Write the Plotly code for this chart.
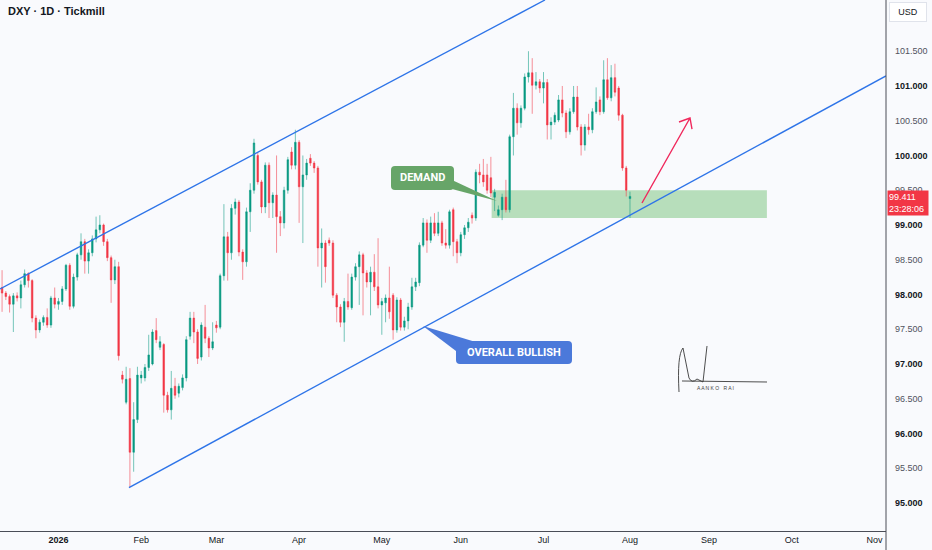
import pandas as pd
import plotly.graph_objects as go

# DXY daily candles, 8 Dec 2025 .. 3 Aug 2026 (weekdays)
dates = pd.bdate_range("2025-12-08", "2026-08-03")

opens = [
    98.70, 98.90, 98.95, 98.10, 98.02, 97.97, 97.86, 97.98, 97.95, 98.14,
    98.30, 98.20, 97.66, 97.49, 97.60, 97.67, 97.56, 97.95, 97.86, 97.90,
    98.08, 98.42, 97.83, 98.25, 98.57, 98.76, 98.48, 98.60, 98.80, 98.93,
    99.00, 98.76, 98.53, 98.21, 98.40, 96.84, 96.45, 96.79, 95.73, 96.20,
    96.80, 96.80, 96.95, 97.00, 97.48, 97.24, 97.28, 96.55, 96.34, 96.68,
    96.58, 96.66, 96.80, 97.40, 97.66, 97.46, 97.10, 97.53, 97.37, 97.23,
    97.56, 97.53, 98.27, 98.83, 98.60, 99.24, 99.33, 98.61, 98.47, 99.19,
    99.50, 100.00, 99.62, 99.26, 99.86, 99.32, 99.43, 99.12, 99.03, 99.50,
    100.05, 99.86, 100.19, 99.55, 99.72, 99.96, 99.89, 99.82, 98.67, 98.74,
    98.78, 98.74, 97.99, 97.82, 97.60, 97.90, 97.81, 98.25, 98.40, 98.57,
    98.31, 98.18, 98.32, 98.11, 97.85, 97.88, 97.95, 97.99, 97.49, 97.92,
    97.53, 97.62, 97.82, 98.11, 98.17, 98.71, 99.03, 98.78, 99.03, 98.88,
    99.03, 98.74, 98.71, 99.22, 98.76, 98.60, 98.86, 98.96, 99.14, 99.10,
    99.76, 99.72, 99.72, 99.68, 99.40, 99.14, 99.22, 99.40, 99.22, 100.27,
    100.68, 100.47, 100.68, 101.13, 101.19, 101.01, 101.06, 100.97, 101.05, 100.44,
    100.48, 100.51, 100.80, 100.61, 100.34, 100.63, 100.84, 100.41, 100.15, 100.41,
    100.37, 100.63, 100.80, 100.63, 101.09, 100.83, 101.12, 100.97, 100.58, 99.82,
    99.38,
]
highs = [
    99.00, 99.05, 98.98, 98.35, 98.05, 98.00, 98.02, 98.03, 98.20, 98.36,
    98.32, 98.22, 97.70, 97.64, 97.70, 97.80, 97.98, 98.10, 97.95, 98.12,
    98.44, 98.45, 98.30, 98.60, 98.88, 98.80, 98.65, 98.85, 99.12, 99.14,
    99.02, 98.80, 98.56, 98.50, 98.47, 96.90, 96.96, 96.94, 96.45, 96.96,
    96.90, 97.00, 97.42, 97.50, 97.66, 97.40, 97.30, 96.60, 96.90, 96.80,
    96.72, 96.85, 97.40, 97.75, 97.75, 97.50, 97.60, 97.85, 97.40, 97.60,
    97.62, 98.30, 99.30, 98.90, 99.30, 99.38, 99.36, 98.65, 99.25, 99.60,
    100.24, 100.05, 99.65, 99.90, 99.90, 99.47, 100.00, 99.20, 99.55, 99.98,
    100.12, 100.37, 100.22, 100.00, 99.95, 100.02, 99.92, 99.85, 98.95, 98.78,
    98.82, 98.78, 98.02, 97.86, 97.95, 98.30, 98.30, 98.45, 98.62, 98.60,
    98.35, 98.40, 98.58, 98.81, 97.95, 98.00, 98.40, 98.02, 97.96, 97.95,
    97.68, 97.88, 98.24, 98.24, 98.75, 99.10, 99.08, 99.12, 99.17, 99.19,
    99.06, 98.94, 99.22, 99.25, 98.80, 98.90, 99.00, 99.10, 99.18, 99.80,
    99.88, 99.95, 99.88, 99.98, 99.52, 99.28, 99.45, 99.65, 100.30, 100.90,
    100.75, 100.72, 101.18, 101.50, 101.40, 101.20, 101.10, 101.20, 101.10, 100.55,
    100.62, 100.87, 101.00, 100.65, 100.68, 101.00, 101.00, 100.45, 100.45, 100.60,
    100.68, 100.98, 100.85, 101.37, 101.40, 101.30, 101.32, 101.00, 100.60, 99.85,
    99.48,
]
lows = [
    98.60, 98.80, 98.05, 97.75, 97.92, 97.74, 97.46, 97.90, 97.80, 98.10,
    98.10, 97.60, 97.37, 97.45, 97.55, 97.52, 97.52, 97.80, 97.78, 97.85,
    98.05, 97.78, 97.80, 98.20, 98.50, 98.30, 98.30, 98.55, 98.75, 98.88,
    98.70, 98.48, 97.88, 98.15, 97.05, 96.72, 96.42, 95.23, 95.45, 96.15,
    96.72, 96.75, 96.90, 96.98, 97.30, 97.20, 96.30, 96.30, 96.20, 96.50,
    96.52, 96.62, 96.75, 97.35, 97.30, 97.00, 97.05, 97.30, 97.10, 97.20,
    97.45, 97.50, 98.20, 98.20, 98.50, 99.15, 98.55, 98.21, 98.40, 98.90,
    99.45, 99.58, 99.17, 99.17, 99.10, 99.10, 98.60, 98.84, 98.95, 99.45,
    99.80, 99.80, 99.03, 98.74, 99.65, 99.85, 99.75, 98.40, 98.10, 98.17,
    98.70, 97.95, 97.60, 97.53, 97.32, 97.78, 97.78, 98.20, 97.85, 97.70,
    98.10, 97.70, 98.05, 97.80, 97.42, 97.60, 97.65, 97.35, 97.45, 97.48,
    97.48, 97.50, 97.78, 98.05, 98.12, 98.68, 98.60, 98.74, 98.84, 98.84,
    98.70, 98.66, 98.66, 98.55, 98.45, 98.55, 98.80, 98.90, 99.02, 99.06,
    99.60, 99.55, 99.45, 99.40, 99.20, 99.12, 99.07, 99.18, 99.18, 100.00,
    100.30, 100.40, 100.65, 101.05, 100.60, 100.95, 100.90, 100.75, 100.23, 100.23,
    100.44, 100.48, 100.55, 100.25, 100.30, 100.60, 100.36, 100.00, 100.07, 100.30,
    100.32, 100.60, 100.58, 100.60, 100.80, 100.78, 100.85, 100.50, 99.78, 99.41,
    99.10,
]
closes = [
    98.90, 98.95, 98.10, 98.02, 97.97, 97.86, 97.98, 97.95, 98.14, 98.30,
    98.20, 97.66, 97.49, 97.60, 97.67, 97.56, 97.95, 97.86, 97.90, 98.08,
    98.42, 97.83, 98.25, 98.57, 98.76, 98.48, 98.60, 98.80, 98.93, 99.00,
    98.76, 98.53, 98.21, 98.40, 97.12, 96.78, 96.78, 95.73, 96.20, 96.84,
    96.84, 96.95, 97.13, 97.46, 97.35, 97.32, 96.55, 96.34, 96.65, 96.55,
    96.68, 96.80, 97.35, 97.66, 97.46, 97.08, 97.56, 97.37, 97.23, 97.32,
    97.52, 98.27, 98.83, 98.60, 99.24, 99.33, 98.61, 98.47, 99.19, 99.50,
    100.18, 99.62, 99.26, 99.86, 99.32, 99.43, 99.12, 99.03, 99.50, 99.94,
    99.86, 100.19, 99.55, 99.72, 99.89, 99.89, 99.82, 98.67, 98.74, 98.40,
    98.74, 97.99, 97.82, 97.60, 97.90, 97.82, 98.25, 98.40, 98.57, 98.31,
    98.18, 98.32, 98.11, 97.85, 97.90, 97.95, 97.75, 97.49, 97.92, 97.53,
    97.62, 97.82, 98.11, 98.18, 98.71, 99.03, 98.78, 99.03, 98.88, 99.03,
    98.74, 98.71, 99.19, 98.76, 98.60, 98.86, 98.96, 99.04, 99.10, 99.76,
    99.72, 99.62, 99.50, 99.46, 99.47, 99.22, 99.40, 99.22, 100.27, 100.68,
    100.47, 100.68, 101.13, 101.19, 101.01, 101.06, 100.97, 101.05, 100.44, 100.48,
    100.58, 100.80, 100.61, 100.34, 100.63, 100.84, 100.41, 100.15, 100.41, 100.37,
    100.63, 100.77, 100.63, 101.09, 100.83, 101.12, 100.91, 100.58, 99.82, 99.50,
    99.411,
]

month_ticks = ["2026-01-01", "2026-02-02", "2026-03-02", "2026-04-01", "2026-05-01", "2026-06-01",
               "2026-07-01", "2026-08-03", "2026-09-01", "2026-10-01", "2026-11-02"]
month_labels = ["<b>2026</b>", "Feb", "Mar", "Apr", "May", "Jun", "Jul", "Aug", "Sep", "Oct", "Nov"]
price_ticks = [95.0, 95.5, 96.0, 96.5, 97.0, 97.5, 98.0, 98.5, 99.0, 99.5, 100.0, 100.5, 101.0, 101.5]
price_labels = [("<b>%.3f</b>" % p) if p % 1 == 0 else ("<span style='color:#50535e'>%.3f</span>" % p)
                for p in price_ticks]

last_price = 99.411
countdown = "23:28:06"

# drawings (channel + demand zone)
upper_line = (("2025-12-10 10:48", 98.08), ("2026-07-01 09:20", 102.237))
lower_line = (("2026-01-27 18:00", 95.22), ("2026-11-05 02:10", 101.144))
demand_zone = (("2026-06-11 05:00", 99.10), ("2026-09-22 10:00", 99.50))

UP, DOWN = "#089981", "#F23645"
BLUE = "#2E74E8"
BG = "#F9FAFD"

# plot area in px, for callouts drawn on paper coords
PW, PH = 886, 531


def P(x, y):
    return "%.5f,%.5f" % (x / PW, 1 - y / PH)


def rrect(x0, y0, x1, y1, r):
    return ("M %s L %s Q %s %s L %s Q %s %s L %s Q %s %s L %s Q %s %s Z" % (
        P(x0 + r, y0), P(x1 - r, y0), P(x1, y0), P(x1, y0 + r), P(x1, y1 - r),
        P(x1, y1), P(x1 - r, y1), P(x0 + r, y1), P(x0, y1), P(x0, y1 - r),
        P(x0, y0 + r), P(x0, y0), P(x0 + r, y0)))


fig = go.Figure(go.Candlestick(
    x=dates, open=opens, high=highs, low=lows, close=closes,
    increasing=dict(fillcolor=UP, line=dict(color="rgba(8,153,129,0.55)", width=1)),
    decreasing=dict(fillcolor=DOWN, line=dict(color="rgba(242,54,69,0.55)", width=1)),
    whiskerwidth=0, hoverinfo="skip", showlegend=False,
))

shapes = [
    dict(type="rect", xref="x", yref="y", x0=demand_zone[0][0], y0=demand_zone[0][1],
         x1=demand_zone[1][0], y1=demand_zone[1][1], fillcolor="rgba(76,175,80,0.38)",
         line=dict(width=0), layer="below"),
    dict(type="line", xref="x", yref="y", x0=upper_line[0][0], y0=upper_line[0][1],
         x1=upper_line[1][0], y1=upper_line[1][1], line=dict(color=BLUE, width=1.4)),
    dict(type="line", xref="x", yref="y", x0=lower_line[0][0], y0=lower_line[0][1],
         x1=lower_line[1][0], y1=lower_line[1][1], line=dict(color=BLUE, width=1.4)),
    # DEMAND callout
    dict(type="path", xref="paper", yref="paper", path=rrect(391, 166, 454, 190, 4),
         fillcolor="#67A568", line=dict(width=0)),
    dict(type="path", xref="paper", yref="paper",
         path="M %s L %s L %s Z" % (P(452, 180), P(497, 201), P(452, 189)),
         fillcolor="#67A568", line=dict(width=0)),
    # OVERALL BULLISH callout
    dict(type="path", xref="paper", yref="paper", path=rrect(456, 341, 572, 364, 4),
         fillcolor="#4B79DA", line=dict(width=0)),
    dict(type="path", xref="paper", yref="paper",
         path="M %s L %s L %s Z" % (P(423, 326), P(474, 341.5), P(456, 351)),
         fillcolor="#4B79DA", line=dict(width=0)),
    # red projection arrow
    dict(type="path", xref="paper", yref="paper",
         path="M %s L %s M %s L %s L %s" % (P(642, 203), P(690, 118), P(679, 122), P(690, 118), P(692, 129)),
         line=dict(color="#F0285C", width=1.4)),
    # signature
    dict(type="path", xref="paper", yref="paper",
         path="M %s Q %s %s L %s Q %s %s L %s M %s L %s M %s L %s" % (
             P(679, 392), P(677, 355), P(683, 348), P(689, 378), P(692, 384), P(697, 379),
             P(703, 382), P(703, 382), P(707, 346), P(682, 381), P(767, 382)),
         line=dict(color="#3a3a3a", width=0.9)),
    # price scale divider
    dict(type="line", xref="paper", yref="paper", x0=1, x1=1, y0=-0.04, y1=1,
         line=dict(color="#4a4d57", width=1)),
]

font = "Liberation Sans, Arial, sans-serif"
annotations = [
    dict(text="<b>DXY · 1D · Tickmill</b>", xref="paper", yref="paper", x=0, y=1,
         xanchor="left", yanchor="middle", xshift=6, yshift=-11, showarrow=False,
         font=dict(family=font, size=11, color="#131722")),
    dict(text="<b>DEMAND</b>", xref="paper", yref="paper", x=422.5 / PW, y=1 - 178 / PH,
         showarrow=False, font=dict(family="Roboto, sans-serif", size=11, color="white")),
    dict(text="<b>OVERALL BULLISH</b>", xref="paper", yref="paper", x=514 / PW, y=1 - 352.5 / PH,
         showarrow=False, font=dict(family="Roboto, sans-serif", size=11, color="white")),
    dict(text="A A N K O   R A I", xref="paper", yref="paper", x=736 / PW, y=1 - 383 / PH,
         yanchor="top", showarrow=False, font=dict(family=font, size=5, color="#444444")),
    dict(text="USD", xref="paper", yref="paper", x=1, y=1, xanchor="left", yanchor="top",
         xshift=3, yshift=-2, showarrow=False, bgcolor="white", bordercolor="#E0E3EB",
         borderwidth=1, borderpad=4, width=28, font=dict(family=font, size=9, color="#131722")),
    dict(text="%.3f<br>%s" % (last_price, countdown), xref="paper", yref="y", x=1, y=last_price,
         xanchor="left", yanchor="middle", xshift=1, yshift=-7, showarrow=False, align="left",
         bgcolor=DOWN, borderpad=1, width=38, font=dict(family=font, size=9, color="white")),
]

fig.update_layout(
    width=932, height=550,
    margin=dict(l=0, r=46, t=0, b=19),
    paper_bgcolor=BG, plot_bgcolor=BG,
    shapes=shapes, annotations=annotations,
    boxgap=0.4,
    xaxis=dict(
        type="date", range=["2025-12-10 10:48", "2026-11-05 02:10"],
        rangebreaks=[dict(bounds=["sat", "mon"])],
        rangeslider=dict(visible=False),
        tickvals=month_ticks, ticktext=month_labels, tickangle=0,
        showgrid=False, zeroline=False, ticks="",
        showline=True, linecolor="#4a4d57", linewidth=1,
        tickfont=dict(family=font, size=9, color="#131722"),
        automargin=False, fixedrange=True,
    ),
    yaxis=dict(
        side="right", range=[94.597, 102.237],
        tickvals=price_ticks, ticktext=price_labels,
        showgrid=False, zeroline=False, ticks="", showline=False,
        ticklabelstandoff=8,
        tickfont=dict(family=font, size=9, color="#131722"),
        automargin=False, fixedrange=True,
    ),
)

# page body margin would push the 932x550 figure off the window
fig.write_html("out.html", config={"displayModeBar": False},
               post_script="document.body.style.margin='0';document.body.style.overflow='hidden';"
                           "document.body.style.background='%s';" % BG)
